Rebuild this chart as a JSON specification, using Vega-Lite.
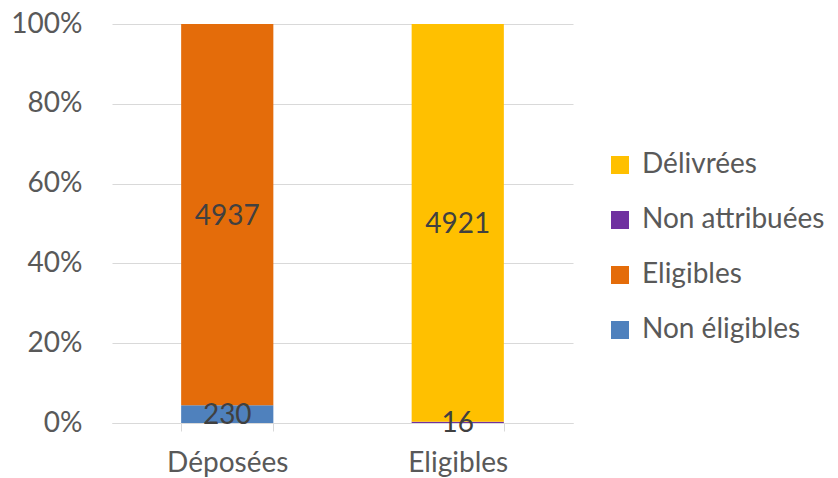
{
  "$schema": "https://vega.github.io/schema/vega-lite/v6.json",
  "autosize": {"type": "none"},
  "padding": {"left": 112, "top": 24, "right": 265, "bottom": 55},
  "width": 461,
  "height": 399,
  "background": "white",
  "config": {
    "font": "Lato",
    "view": {"stroke": null},
    "axis": {"labelFont": "Lato", "labelColor": "#595959", "labelFontSize": 28}
  },
  "data": {
    "values": [
      {"cat": "Déposées", "serie": "Non éligibles", "n": 230},
      {"cat": "Déposées", "serie": "Eligibles", "n": 4937},
      {"cat": "Eligibles", "serie": "Non attribuées", "n": 16},
      {"cat": "Eligibles", "serie": "Délivrées", "n": 4921}
    ]
  },
  "layer": [
    {
      "mark": {"type": "bar"},
      "encoding": {
        "x": {
          "field": "cat", "type": "nominal", "sort": null,
          "scale": {"paddingInner": 0.6, "paddingOuter": 0.3},
          "axis": {"title": null, "labelAngle": 0, "domainColor": "#d9d9d9", "tickColor": "#d9d9d9", "tickBand": "extent", "tickSize": 8, "labelPadding": 18, "labelBaseline": "top"}
        },
        "y": {
          "field": "n", "type": "quantitative", "stack": "normalize",
          "scale": {"domain": [0, 1]},
          "axis": {"title": null, "format": ".0%", "values": [0, 0.2, 0.4, 0.6, 0.8, 1], "domain": false, "ticks": false, "gridColor": "#d9d9d9", "labelPadding": 30}
        },
        "order": {"field": "serie", "sort": "descending"},
        "color": {
          "field": "serie", "type": "nominal",
          "scale": {
            "domain": ["Délivrées", "Non attribuées", "Eligibles", "Non éligibles"],
            "range": ["#FFC000", "#7030A0", "#E46C0A", "#4F81BD"]
          },
          "legend": {
            "title": null, "orient": "none", "legendX": 494, "legendY": 127,
            "symbolType": "square", "symbolSize": 324, "symbolStrokeWidth": 0,
            "labelFont": "Lato", "labelFontSize": 28, "labelColor": "#595959",
            "labelLimit": 0, "rowPadding": 27, "labelOffset": 8
          }
        }
      }
    },
    {
      "transform": [
        {"joinaggregate": [{"op": "sum", "field": "n", "as": "total"}], "groupby": ["cat"]},
        {"window": [{"op": "sum", "field": "n", "as": "cum"}], "groupby": ["cat"], "sort": [{"field": "serie", "order": "descending"}], "frame": [null, 0]},
        {"calculate": "(datum.cum - datum.n / 2) / datum.total", "as": "mid"}
      ],
      "mark": {"type": "text", "fontSize": 28, "color": "#404040", "font": "Lato", "dy": 2},
      "encoding": {
        "x": {"field": "cat", "type": "nominal", "sort": null},
        "y": {"field": "mid", "type": "quantitative"},
        "text": {"field": "n", "type": "quantitative"}
      }
    }
  ]
}
